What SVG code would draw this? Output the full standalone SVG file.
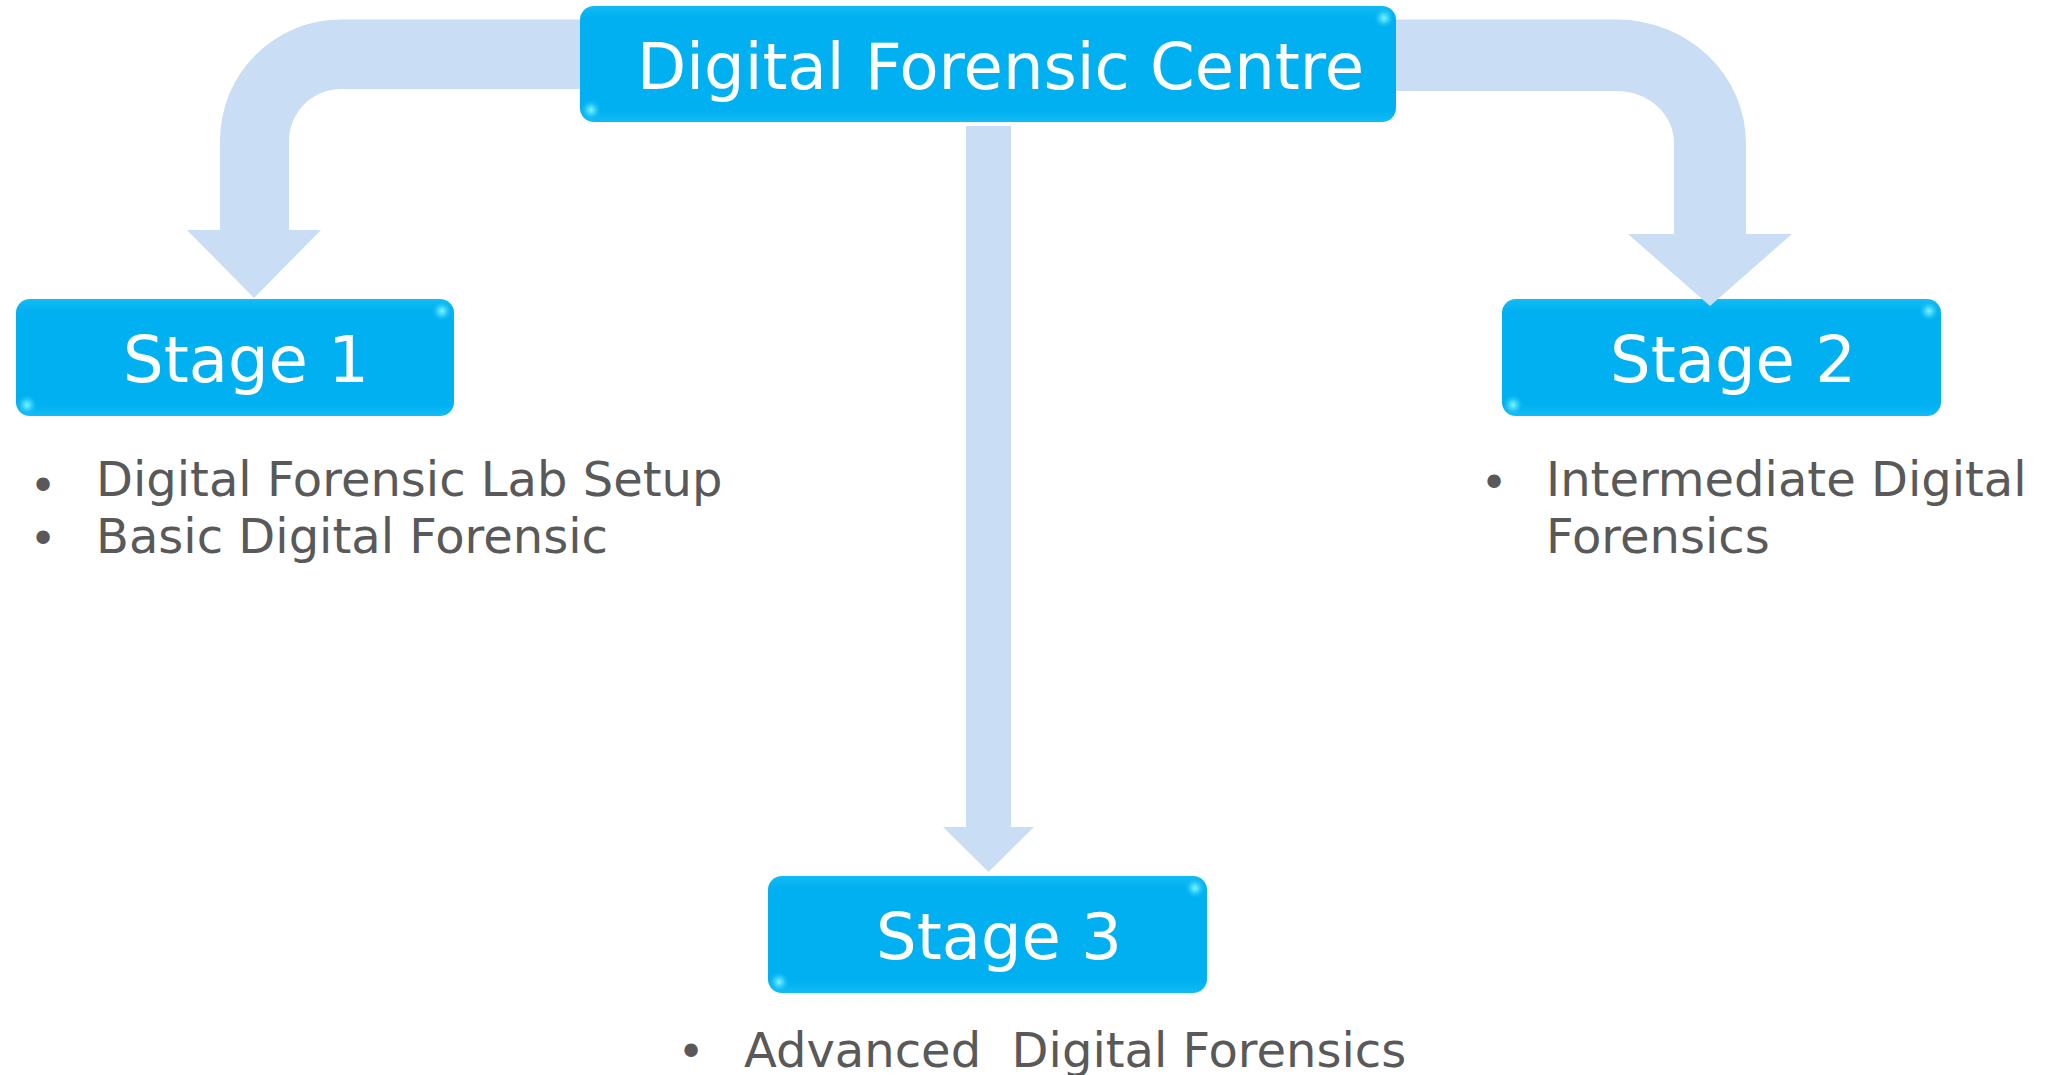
<svg xmlns="http://www.w3.org/2000/svg" width="2054" height="1075" viewBox="0 0 2054 1075">
<style>
.box{fill:url(#boxGrad)}
.glow{fill:url(#glowGrad)}
.arrow{fill:#C9DDF4}
.label{font-family:"DejaVu Sans","Verdana",sans-serif;font-size:64px;fill:#FFFFFF}
.item{font-family:"DejaVu Sans","Verdana",sans-serif;font-size:48px;fill:#595959;white-space:pre}
.bullet{font-family:"DejaVu Sans",sans-serif;font-size:46px;fill:#595959;text-anchor:middle}
</style>
<defs>
<linearGradient id="boxGrad" x1="0" y1="0" x2="0" y2="1">
<stop offset="0" stop-color="#12BCF6"/>
<stop offset="0.1" stop-color="#00B0F0"/>
<stop offset="0.9" stop-color="#00B0F0"/>
<stop offset="1" stop-color="#12BCF6"/>
</linearGradient>
<radialGradient id="glowGrad">
<stop offset="0" stop-color="#7AF8FF" stop-opacity="1"/>
<stop offset="0.4" stop-color="#45D8FA" stop-opacity="0.8"/>
<stop offset="1" stop-color="#00B0F0" stop-opacity="0"/>
</radialGradient>
</defs>
<rect width="2054" height="1075" fill="#FFFFFF"/>

<g id="stage1">
<rect class="box" x="16" y="299" width="438" height="117" rx="14"/>
<circle class="glow" cx="442" cy="311" r="11"/>
<circle class="glow" cx="27" cy="405" r="11"/>
<text class="label" x="123" y="382">Stage 1</text>
<text class="bullet" x="43" y="502">•</text>
<text class="item" x="96" y="496">Digital Forensic Lab Setup</text>
<text class="bullet" x="43" y="555">•</text>
<text class="item" x="96" y="553">Basic Digital Forensic</text>
</g>

<g id="stage2">
<rect class="box" x="1502" y="299" width="439" height="117" rx="14"/>
<circle class="glow" cx="1929" cy="311" r="11"/>
<circle class="glow" cx="1513" cy="405" r="11"/>
<text class="label" x="1610" y="382">Stage 2</text>
<text class="bullet" x="1494" y="499">•</text>
<text class="item" x="1546" y="496">Intermediate Digital</text>
<text class="item" x="1546" y="553">Forensics</text>
</g>

<g id="stage3">
<rect class="box" x="768" y="876" width="439" height="117" rx="14"/>
<circle class="glow" cx="1195" cy="888" r="11"/>
<circle class="glow" cx="779" cy="982" r="11"/>
<text class="label" x="876" y="959">Stage 3</text>
<text class="bullet" x="691" y="1068">•</text>
<text class="item" x="744" y="1067" xml:space="preserve">Advanced  Digital Forensics</text>
</g>

<g id="connectors">
<path class="arrow" d="M 600 19.5 L 341 19.5 A 121 121 0 0 0 220 140.5 L 220 230 L 187 230 L 254 298 L 321 230 L 289 230 L 289 141 A 52 52 0 0 1 341 89 L 600 89 Z"/>
<path class="arrow" d="M 1380 19.5 L 1617 19.5 A 129 124 0 0 1 1746 143.5 L 1746 234 L 1792 234 L 1710 306 L 1628 234 L 1674 234 L 1674 143 A 57 52 0 0 0 1617 91 L 1380 91 Z"/>
<path class="arrow" d="M 966 126 L 1011 126 L 1011 827 L 1034 827 L 988.5 872 L 943 827 L 966 827 Z"/>
</g>

<g id="centre">
<rect class="box" x="580" y="6" width="816" height="116" rx="14"/>
<circle class="glow" cx="1384" cy="18" r="11"/>
<circle class="glow" cx="591" cy="110" r="11"/>
<text class="label" x="637" y="89">Digital Forensic Centre</text>
</g>
</svg>
